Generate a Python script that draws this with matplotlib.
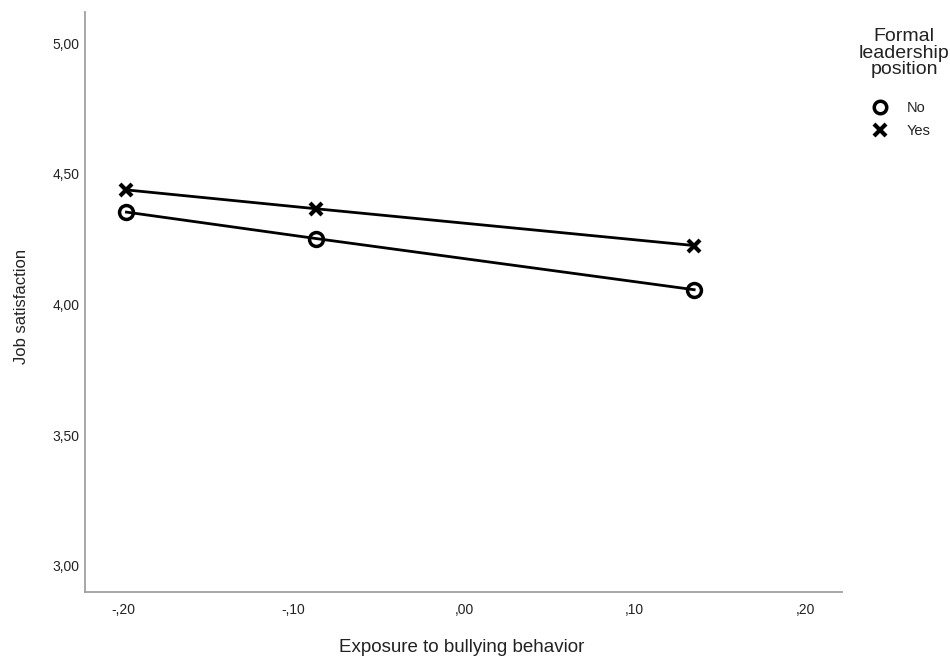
import matplotlib
matplotlib.use("Agg")
import matplotlib.pyplot as plt
from matplotlib.lines import Line2D

plt.rcParams['font.family'] = ['Liberation Sans', 'DejaVu Sans']

x_vals = [-0.198, -0.087, 0.135]
no_vals = [4.354, 4.253, 4.057]
yes_vals = [4.439, 4.367, 4.226]
x_ticks = [-0.20, -0.10, 0.00, 0.10, 0.20]
x_ticklabels = ['-,20', '-,10', ',00', ',10', ',20']
y_ticks = [3.00, 3.50, 4.00, 4.50, 5.00]
y_ticklabels = ['3,00', '3,50', '4,00', '4,50', '5,00']
series_names = ['No', 'Yes']

W, H = 950, 659
fig = plt.figure(figsize=(9.5, 6.59), dpi=100)
ax = fig.add_axes([0.0895, 0.1017, 0.7968, 0.8801])

ax.plot(x_vals, no_vals, color='black', lw=2, marker='o', ms=10, mfc='none', mew=2.5, zorder=3)
ax.plot(x_vals, yes_vals, color='black', lw=2, marker='x', ms=9, mew=3, zorder=3)

ax.set_xlim(-0.2223, 0.2217)
ax.set_ylim(2.90, 5.12)
ax.set_xticks(x_ticks)
ax.set_xticklabels(x_ticklabels)
ax.set_yticks(y_ticks)
ax.set_yticklabels(y_ticklabels)
ax.tick_params(axis='x', length=0, labelsize=10, colors='#222222', pad=8)
ax.tick_params(axis='y', length=0, labelsize=10, colors='#222222', pad=4)
for s in ['top', 'right']:
    ax.spines[s].set_visible(False)
for s in ['left', 'bottom']:
    ax.spines[s].set_color('#a0a0a0')
    ax.spines[s].set_linewidth(1.3)

fig.text(462 / W, 1 - 648 / H, 'Exposure to bullying behavior', fontsize=13.5,
         color='#222222', ha='center', va='center')
fig.text(22 / W, 1 - 306 / H, 'Job satisfaction', fontsize=12, rotation=90,
         color='#222222', ha='center', va='center')

# legend
fig.text(904 / W, 1 - 53 / H, 'Formal\nleadership\nposition', fontsize=14,
         color='#222222', ha='center', va='center', linespacing=0.97, multialignment='center')
handles = [
    Line2D([], [], ls='none', marker='o', ms=9, mfc='none', mec='black', mew=2.5, color='black'),
    Line2D([], [], ls='none', marker='x', ms=8, mew=3, color='black'),
]
leg = fig.legend(handles, series_names, loc='upper left',
                 bbox_to_anchor=(873 / W, 1 - 101 / H), frameon=False,
                 fontsize=10.5, handlelength=1.0, handletextpad=1.3,
                 labelspacing=0.65, borderpad=0, borderaxespad=0)
for t in leg.get_texts():
    t.set_color('#222222')

fig.savefig('out.png', dpi=100)
